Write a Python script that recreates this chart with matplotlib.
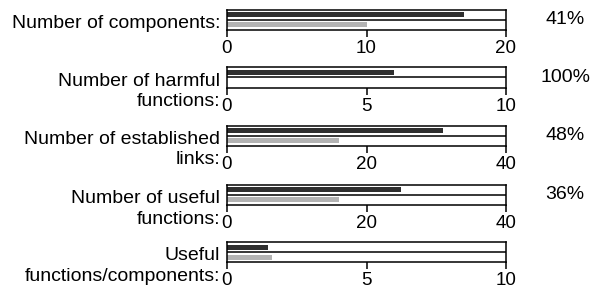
import matplotlib
matplotlib.use("Agg")
import matplotlib.pyplot as plt

# ---- data ----
label_line1 = ["Number of components:", "Number of harmful", "Number of established",
               "Number of useful", "Useful"]
label_line2 = ["", "functions:", "links:", "functions:", "functions/components:"]
before = [17, 6, 31, 25, 1.47]
after = [10, 0, 16, 16, 1.6]
axis_max = [20, 10, 40, 40, 10]
tick_vals = [[0, 10, 20], [0, 5, 10], [0, 20, 40], [0, 20, 40], [0, 5, 10]]
reduction = ["41%", "100%", "48%", "36%", ""]

DARK = "#2e2e2e"
LIGHT = "#b3b3b3"

plt.rcParams["font.family"] = ["Liberation Sans", "DejaVu Sans"]
FS = 14
TFS = 13.5

W, H = 592, 289
fig = plt.figure(figsize=(W / 100, H / 100), dpi=100)

x0, x1 = 227, 506
tops = [9.5, 67.5, 125.5, 184.5, 242.0]
ph = 20

for i in range(5):
    top = tops[i]
    bottom = top + ph
    ax = fig.add_axes([x0 / W, (H - bottom) / H, (x1 - x0) / W, ph / H])
    ax.barh([1.5], [before[i]], height=0.5, color=DARK, left=0)
    ax.barh([0.5], [after[i]], height=0.5, color=LIGHT, left=0)
    ax.axhline(1, color="black", lw=1.1)
    ax.set_xlim(0, axis_max[i])
    ax.set_ylim(0, 2)
    ax.set_yticks([])
    ax.set_xticks(tick_vals[i])
    ax.set_xticklabels([str(v) for v in tick_vals[i]], fontsize=TFS)
    ax.tick_params(axis="x", direction="out", length=5, width=1.1, pad=2.5)
    for s in ax.spines.values():
        s.set_linewidth(1.1)
    # labels
    fig.text(220 / W, (H - (bottom - 1.5)) / H, label_line1[i], ha="right",
             va="baseline", fontsize=FS)
    if label_line2[i]:
        fig.text(220 / W, (H - (bottom + 19)) / H, label_line2[i], ha="right",
                 va="baseline", fontsize=FS)
    if reduction[i]:
        fig.text(565 / W, (H - (top + ph / 2)) / H, reduction[i], ha="center",
                 va="center", fontsize=FS)

fig.savefig("out.png", dpi=100)
